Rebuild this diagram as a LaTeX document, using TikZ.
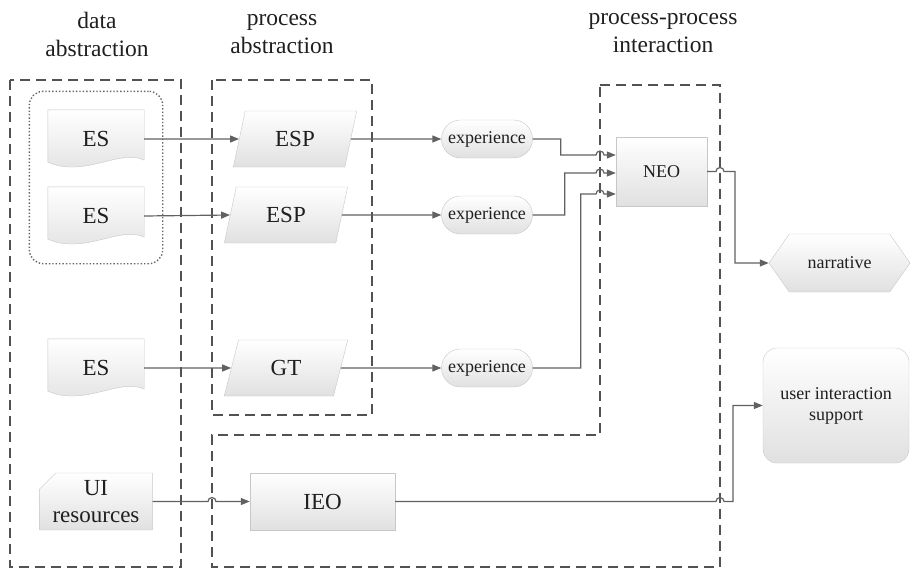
\documentclass[tikz,border=0pt]{standalone}
\usepackage{fontspec}
\setmainfont{Liberation Serif}
\usetikzlibrary{arrows.meta,calc,fit,backgrounds,shapes.geometric,shapes.misc,shapes.symbols}

\begin{document}
\begin{tikzpicture}[x=1pt, y=-1pt,
    box/.style={draw=black!22, top color=white, bottom color=black!12, text=black!88, inner sep=2pt},
    bigtext/.style={font=\fontsize{23}{27.5}\selectfont},
    smalltext/.style={font=\fontsize{18}{21}\selectfont},
    heading/.style={align=center, text=black!88, font=\fontsize{23.5}{28}\selectfont},
    docnode/.style={bigtext, text=black!88, minimum width=96pt, minimum height=58pt, inner sep=0pt},
    docshape/.style={draw=black!22, top color=white, bottom color=black!12},
    procnode/.style={box, bigtext, trapezium, trapezium left angle=75, trapezium right angle=105,
        trapezium stretches=true, minimum width=124pt, minimum height=56pt},
    expnode/.style={box, smalltext, rounded rectangle, minimum width=95pt, minimum height=38pt},
    region/.style={draw=black!68, line width=1.6pt, dash pattern=on 10pt off 6pt},
    group/.style={draw=black!60, line width=1.4pt, dotted, rounded corners=14pt},
    conn/.style={draw=black!62, line width=1.2pt, -{Triangle[length=9pt,width=7pt]}}]
    \useasboundingbox (0,0) rectangle (911,570);

    % Column headings
    \node[heading] (hdata) at (97,34) {data\\abstraction};
    \node[heading] (hproc) at (282,34) {process\\abstraction};
    \node[heading] (hpp) at (663,33) {process-process\\interaction};

    % Dashed regions
    \draw[region] (10,80) rectangle (181,567);
    \draw[region] (212,80) rectangle (372,415);
    \coordinate (ppl) at (600,85);
    \coordinate (ppr) at (720,85);
    \coordinate (ppbl) at (212,567);
    \draw[region] (ppl) -- (ppr) -- (720,567) -- (ppbl) -- (212,435) -- (600,435) -- cycle;

    % Data sources
    \node[docnode] (es1) at (96,139) {ES};
    \node[docnode] (es2) at (96,216) {ES};
    \node[docnode] (es3) at (96,368) {ES};
    \node[box, bigtext, chamfered rectangle, chamfered rectangle corners=north west,
        chamfered rectangle xsep=13pt, minimum width=96pt, minimum height=57pt,
        align=center, inner sep=0pt] (ui) at (96,501.5) {UI\\resources};
    \begin{scope}[on background layer]
        \foreach \n in {es1,es2,es3}
            \path[docshape] (\n.north west) -- (\n.north east) -- ($(\n.south east)+(0,-8)$)
                .. controls +(-24,-12) and +(37,16) .. ($(\n.south west)+(0,-6)$) -- cycle;
    \end{scope}
    \node[group, fit=(es1)(es2), inner sep=18.5pt] (grp) {};

    % Processes
    \node[procnode] (esp1) at (295,139) {ESP};
    \node[procnode] (esp2) at (286,215) {ESP};
    \node[procnode] (gt) at (286,368) {GT};
    \node[box, bigtext, minimum width=145pt, minimum height=57pt] (ieo) at (322.5,501.5) {IEO};

    % Experiences
    \node[expnode] (exp1) at (487,139) {experience};
    \node[expnode] (exp2) at (487,215) {experience};
    \node[expnode] (exp3) at (487,368) {experience};

    % Outputs
    \node[box, smalltext, minimum width=91pt, minimum height=69pt] (neo) at (661.5,171.5) {NEO};
    \node[box, smalltext, signal, signal to=east and west, signal pointer angle=110,
        minimum width=141pt, minimum height=58pt] (narr) at (839.5,263) {narrative};
    \node[box, smalltext, rounded corners=14pt, minimum width=146pt, minimum height=115pt,
        align=center] (uis) at (836,405.5) {user interaction\\support};

    % Connectors
    \draw[conn] (es1.east) -- (esp1.west);
    \draw[conn] (es2.east) -- (esp2.west);
    \draw[conn] (es3.east) -- (gt.west);
    \draw[conn] (esp1.east) -- (exp1.west);
    \draw[conn] (esp2.east) -- (exp2.west);
    \draw[conn] (gt.east) -- (exp3.west);
    \coordinate (in1) at ($(neo.west)+(0,-16.5)$);
    \coordinate (in2) at ($(neo.west)+(0,1.5)$);
    \coordinate (in3) at ($(neo.west)+(0,22.5)$);
    \draw[conn] (exp1.east) -- ++(28,0) |- ($(ppl |- in1)+(-4,0)$)
        arc[start angle=180, end angle=360, radius=4] -- (in1);
    \draw[conn] (exp2.east) -- ++(32,0) |- ($(ppl |- in2)+(-4,0)$)
        arc[start angle=180, end angle=360, radius=4] -- (in2);
    \draw[conn] (exp3.east) -- ++(48,0) |- ($(ppl |- in3)+(-4,0)$)
        arc[start angle=180, end angle=360, radius=4] -- (in3);
    \draw[conn] (neo.east) -- ($(ppr |- neo.east)+(-4,0)$)
        arc[start angle=180, end angle=360, radius=4] -- ++(11,0) |- (narr.west);
    \draw[conn] (ui.east) -- ($(ppbl |- ui.east)+(-4,0)$)
        arc[start angle=180, end angle=360, radius=4] -- (ieo.west);
    \draw[conn] (ieo.east) -- ($(ppr |- ieo.east)+(-4,0)$)
        arc[start angle=180, end angle=360, radius=4] -- ++(9,0) |- (uis.west);
\end{tikzpicture}
\end{document}
